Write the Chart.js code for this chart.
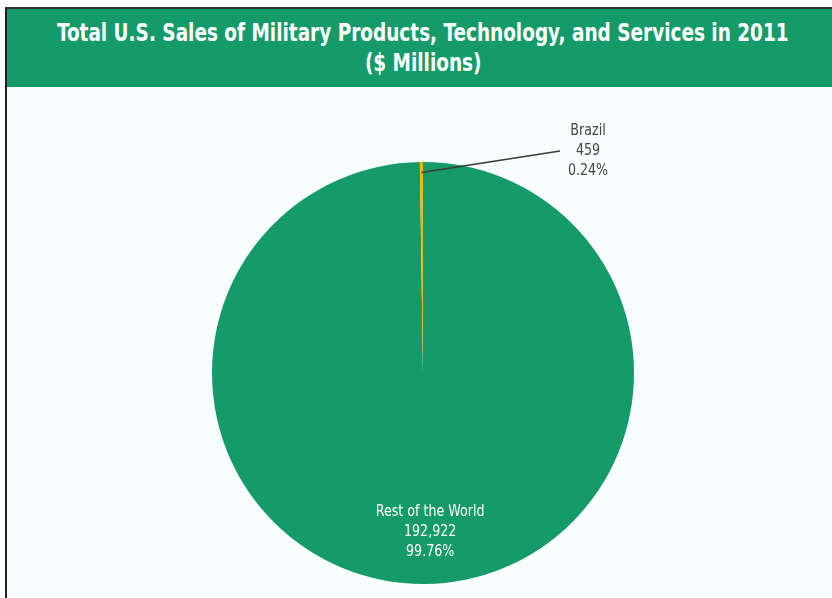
<!DOCTYPE html>
<html>
<head>
<meta charset="utf-8">
<script src="https://cdn.jsdelivr.net/npm/chart.js@4"></script>
<style>
  html, body { margin: 0; padding: 0; width: 832px; height: 598px; overflow: hidden; background: #fff; }
  #frame { position: absolute; left: 5px; top: 7px; width: 825px; height: 591px;
           border-left: 2px solid #222; border-top: 2px solid #333; background: #f8fdfd; }
  #header { height: 78px; background: #159b69; color: #fff; text-align: center;
            font-family: "DejaVu Sans Condensed", "Liberation Sans Narrow", sans-serif;
            font-weight: bold; font-size: 24px; line-height: 30px; padding-top: 9px; padding-left: 7px; box-sizing: border-box; }
  #header span { display: inline-block; transform: scaleX(0.855); white-space: nowrap; margin: 0 -60px; }
  #chartBox { position: absolute; left: 0; top: 78px; width: 825px; height: 511px; }
</style>
</head>
<body>
<div id="frame">
  <div id="header">
    <span>Total U.S. Sales of Military Products, Technology, and Services in 2011</span><br>
    <span>($ Millions)</span>
  </div>
  <div id="chartBox"><canvas id="pie"></canvas></div>
</div>
<script>
const categories = ['Rest of the World', 'Brazil'];
const sales = [192922, 459];
const shares = ['99.76%', '0.24%'];
const colors = ['#159b69', '#f2b705'];

// data labels (name, value, share) plus Brazil's leader line
const pieLabels = {
  id: 'pieLabels',
  afterDatasetsDraw(chart) {
    const ctx = chart.ctx;
    const meta = chart.getDatasetMeta(0);
    meta.data.forEach((arc, i) => {
      const { x, y, outerRadius, startAngle, endAngle } = arc.getProps(['x', 'y', 'outerRadius', 'startAngle', 'endAngle'], true);
      const mid = (startAngle + endAngle) / 2;
      const lines = [categories[i], sales[i].toLocaleString('en-US'), shares[i]];
      let lx, ly, color;
      ctx.save();
      if (i === 0) {
        lx = x + Math.cos(mid) * outerRadius * 0.75 + 6;
        ly = y + Math.sin(mid) * outerRadius * 0.755;
        color = '#ffffff';
      } else {
        const px = x + Math.cos(mid) * outerRadius * 0.95;
        const py = y + Math.sin(mid) * outerRadius * 0.95;
        lx = x + 165;
        ly = y - outerRadius - 11;
        ctx.strokeStyle = '#3a3a3a';
        ctx.lineWidth = 1.5;
        ctx.beginPath();
        ctx.moveTo(px, py);
        ctx.lineTo(lx - 28, ly);
        ctx.stroke();
        color = '#444444';
      }
      ctx.translate(lx, ly);
      ctx.scale(0.88, 1);
      ctx.font = '16px "DejaVu Sans Condensed", sans-serif';
      ctx.textAlign = 'center';
      ctx.textBaseline = 'middle';
      ctx.fillStyle = color;
      lines.forEach((t, k) => ctx.fillText(t, 0, (k - 1) * 20));
      ctx.restore();
    });
  }
};

new Chart(document.getElementById('pie'), {
  type: 'pie',
  data: {
    labels: categories,
    datasets: [{ data: sales, backgroundColor: colors, borderWidth: 0 }]
  },
  options: {
    responsive: true, maintainAspectRatio: false, animation: false,
    layout: { padding: { top: 75, bottom: 14, left: 205, right: 198 } },
    plugins: { legend: { display: false }, tooltip: { enabled: false } }
  },
  plugins: [pieLabels]
});
</script>
</body>
</html>
